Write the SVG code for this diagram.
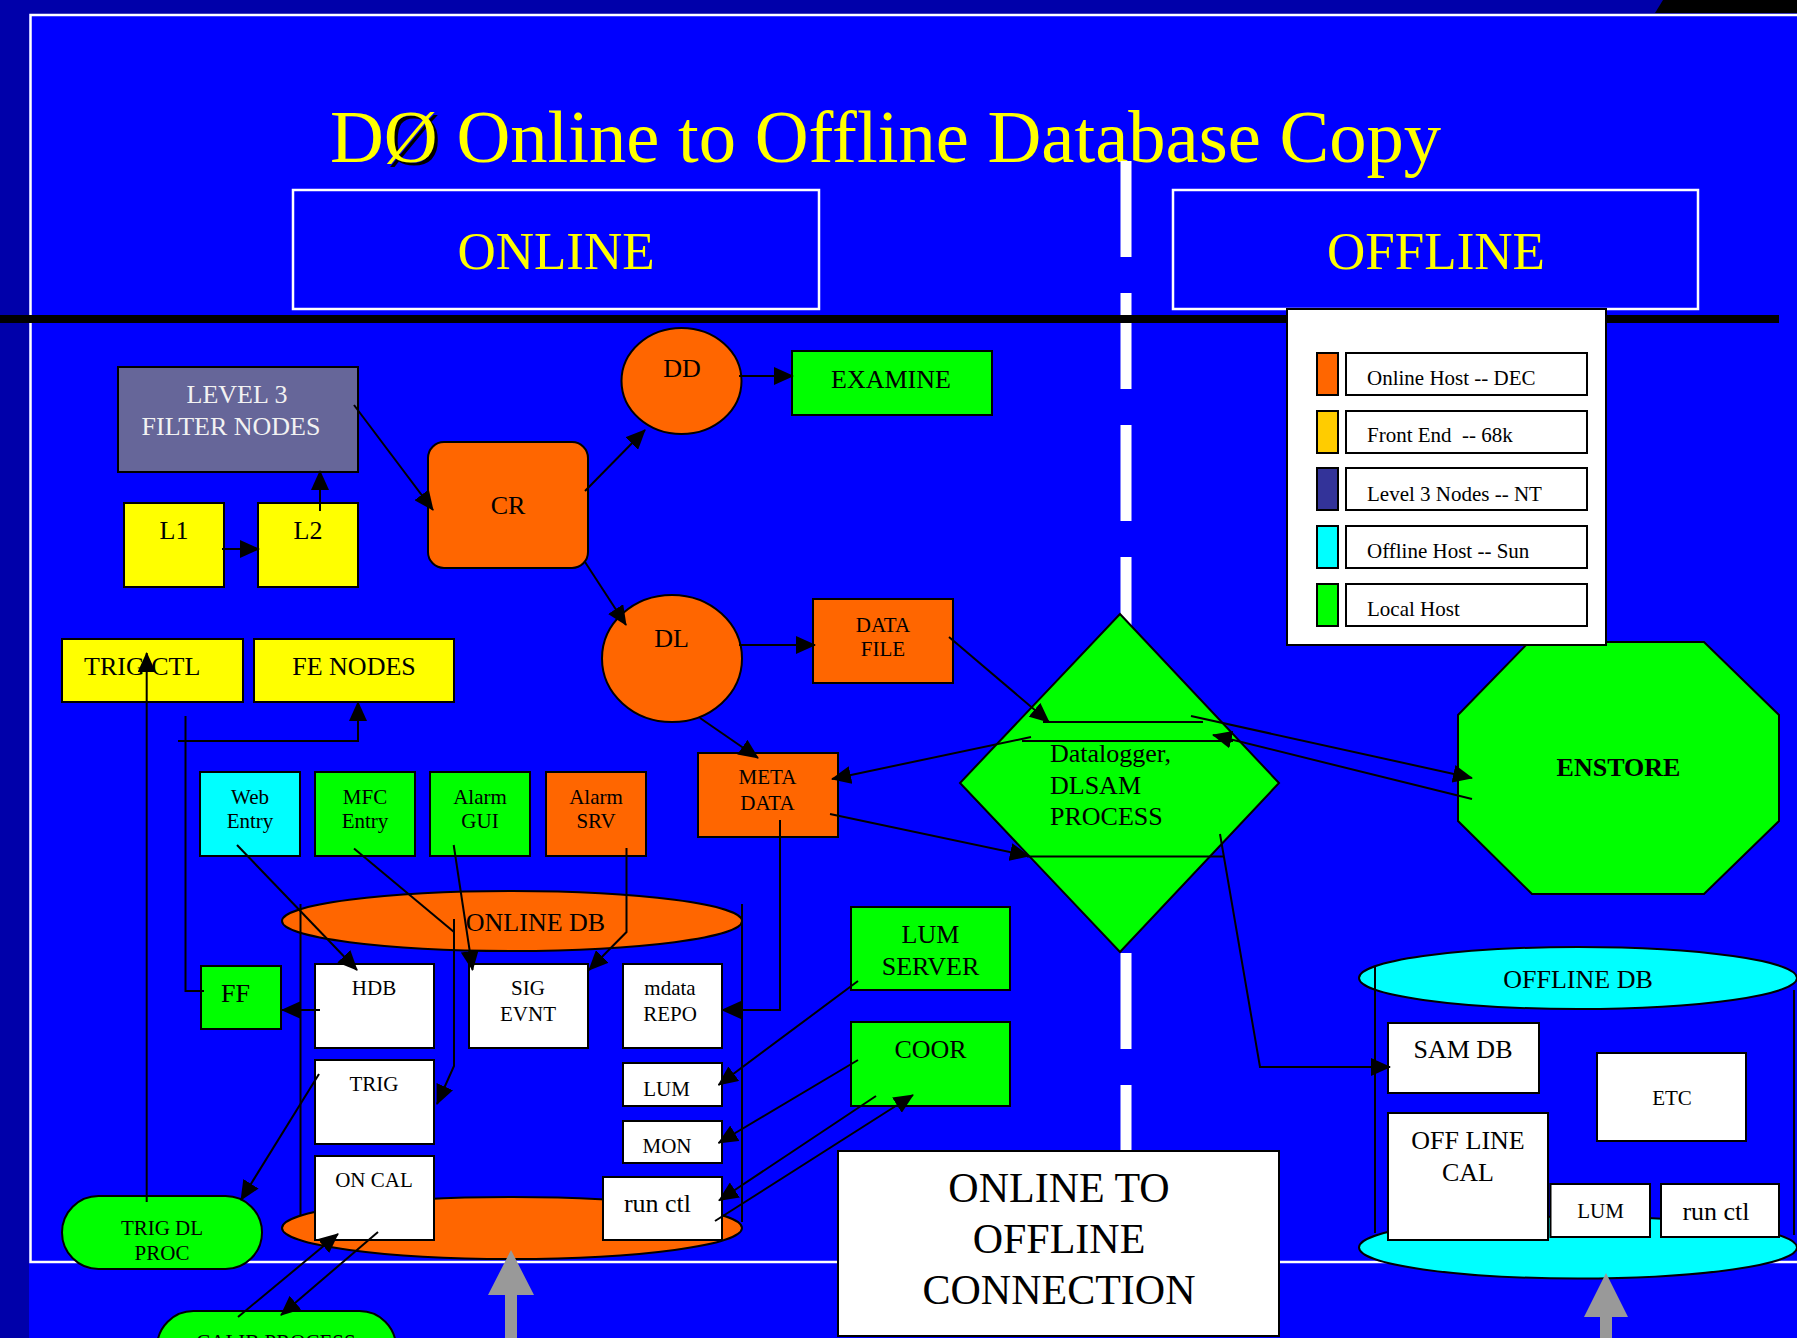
<svg xmlns="http://www.w3.org/2000/svg" width="1797" height="1338" viewBox="0 0 1797 1338">
<defs>
<style>
text{font-family:"Liberation Serif","Times New Roman",serif;fill:#000}
.n{stroke:#000;stroke-width:2}
.t21{font-size:21px}
.t26{font-size:26px}
.c{text-anchor:middle}
.or{fill:#FF6600}
.ye{fill:#FFFF00}
.gr{fill:#00FF00}
.cy{fill:#00FFFF}
.wh{fill:#FFFFFF}
.cn line,.cn polyline{stroke:#000;stroke-width:2;fill:none}
.ar{marker-end:url(#ah)}
.hdr{fill:none;stroke:#FFFFFF;stroke-width:2.5}
.big{font-size:53px;fill:#FFFF00}
</style>
<marker id="ah" markerUnits="userSpaceOnUse" markerWidth="20" markerHeight="18" viewBox="0 0 20 18" refX="19" refY="9" orient="auto">
<path d="M0,0 L20,9 L0,18 z" fill="#000"/>
</marker>
</defs>

<!-- background -->
<rect x="0" y="0" width="1797" height="1338" fill="#0000FF"/>
<rect x="0" y="0" width="1797" height="14" fill="#0000AA"/>
<rect x="0" y="0" width="29" height="1338" fill="#0000AA"/>
<polygon points="1663,0 1797,0 1797,13 1655,13" fill="#000"/>
<rect x="30.5" y="15" width="1800" height="1247" fill="none" stroke="#FFFFFF" stroke-width="2.5"/>

<!-- title -->
<text x="333" y="165" style="font-size:74.6px" fill="none"><tspan fill="none">D</tspan><tspan fill="#000">Ø</tspan></text>
<text x="330" y="162" style="font-size:74.6px;fill:#FFFF00">DØ Online to Offline Database Copy</text>

<!-- divider -->
<line x1="1126" y1="161" x2="1126" y2="1338" stroke="#FFFFFF" stroke-width="11" stroke-dasharray="96 36"/>

<g id="online-header">
<rect class="hdr" x="293" y="190" width="526" height="119"/>
<text class="big c" x="556" y="269">ONLINE</text>
</g>
<g id="offline-header">
<rect class="hdr" x="1173" y="190" width="525" height="119"/>
<text class="big c" x="1436" y="269">OFFLINE</text>
</g>
<rect x="0" y="315" width="1779" height="8" fill="#000"/>

<!-- nodes -->
<g id="level3">
<rect class="n" x="118" y="367" width="240" height="105" fill="#666699"/>
<text class="t26 c" x="237" y="403" style="fill:#F2F2F2">LEVEL 3</text>
<text class="t26 c" x="231" y="435" style="fill:#F2F2F2">FILTER NODES</text>
</g>
<g id="l1"><rect class="n ye" x="124" y="503" width="100" height="84"/><text class="t26 c" x="174" y="539">L1</text></g>
<g id="l2"><rect class="n ye" x="258" y="503" width="100" height="84"/><text class="t26 c" x="308" y="539">L2</text></g>
<g id="cr"><rect class="n or" x="428" y="442" width="160" height="126" rx="16"/><text class="t26 c" x="508" y="514">CR</text></g>
<g id="dd"><ellipse class="n or" cx="681.5" cy="381" rx="60" ry="53"/><text class="t26 c" x="682" y="377">DD</text></g>
<g id="examine"><rect class="n gr" x="792" y="351" width="200" height="64"/><text class="t26 c" x="891" y="388">EXAMINE</text></g>
<g id="dl"><ellipse class="n or" cx="672" cy="658.5" rx="70" ry="63.5"/><text class="t26 c" x="671.5" y="647">DL</text></g>
<g id="datafile"><rect class="n or" x="813" y="599" width="140" height="84"/><text class="t21 c" x="883" y="631.5">DATA</text><text class="t21 c" x="883" y="656">FILE</text></g>
<g id="metadata"><rect class="n or" x="698" y="753" width="140" height="84"/><text class="t21 c" x="767.5" y="784">META</text><text class="t21 c" x="767.5" y="810">DATA</text></g>
<g id="trigctl"><rect class="n ye" x="62" y="639" width="181" height="63"/><text class="t26" x="84" y="675">TRIG CTL</text></g>
<g id="fenodes"><rect class="n ye" x="254" y="639" width="200" height="63"/><text class="t26 c" x="354" y="675">FE NODES</text></g>
<g id="webentry"><rect class="n cy" x="200" y="772" width="100" height="84"/><text class="t21 c" x="250" y="803.5">Web</text><text class="t21 c" x="250" y="828">Entry</text></g>
<g id="mfcentry"><rect class="n gr" x="315" y="772" width="100" height="84"/><text class="t21 c" x="365" y="803.5">MFC</text><text class="t21 c" x="365" y="828">Entry</text></g>
<g id="alarmgui"><rect class="n gr" x="430" y="772" width="100" height="84"/><text class="t21 c" x="480" y="803.5">Alarm</text><text class="t21 c" x="480" y="828">GUI</text></g>
<g id="alarmsrv"><rect class="n or" x="546" y="772" width="100" height="84"/><text class="t21 c" x="596" y="803.5">Alarm</text><text class="t21 c" x="596" y="828">SRV</text></g>

<g id="online-db">
<ellipse class="n or" cx="512" cy="1228" rx="230" ry="31"/>
<ellipse class="n or" cx="512" cy="921" rx="230" ry="30"/>
<text class="t26 c" x="535.5" y="931">ONLINE DB</text>
<line x1="300.5" y1="904" x2="300.5" y2="1215" stroke="#000" stroke-width="2"/>
<line x1="742" y1="904" x2="742" y2="1222" stroke="#000" stroke-width="2"/>
</g>
<g id="hdb"><rect class="n wh" x="315" y="964" width="119" height="84"/><text class="t21 c" x="374" y="995">HDB</text></g>
<g id="sigevnt"><rect class="n wh" x="469" y="964" width="119" height="84"/><text class="t21 c" x="528" y="995">SIG</text><text class="t21 c" x="528" y="1020.5">EVNT</text></g>
<g id="mdatarepo"><rect class="n wh" x="623" y="964" width="99" height="84"/><text class="t21 c" x="670" y="995">mdata</text><text class="t21 c" x="670" y="1020.5">REPO</text></g>
<g id="trig"><rect class="n wh" x="315" y="1060" width="119" height="84"/><text class="t21 c" x="374" y="1090.5">TRIG</text></g>
<g id="oncal"><rect class="n wh" x="315" y="1156" width="119" height="84"/><text class="t21 c" x="374" y="1187">ON CAL</text></g>
<g id="lum-on"><rect class="n wh" x="623" y="1063" width="99" height="43"/><text class="t21 c" x="666.5" y="1095.5">LUM</text></g>
<g id="mon"><rect class="n wh" x="623" y="1121" width="99" height="42"/><text class="t21 c" x="667" y="1152.5">MON</text></g>
<g id="runctl-on"><rect class="n wh" x="603" y="1177" width="119" height="63"/><text class="t26 c" x="657.5" y="1211.5">run ctl</text></g>
<g id="ff"><rect class="n gr" x="201" y="966" width="80" height="63"/><text class="t26" x="221" y="1001.5">FF</text></g>
<g id="trigdlproc"><rect class="n gr" x="62" y="1196" width="200" height="73" rx="36.5"/><text class="t21 c" x="162" y="1235">TRIG DL</text><text class="t21 c" x="162" y="1259.5">PROC</text></g>
<g id="calibprocess"><rect class="n gr" x="157" y="1311" width="239" height="73" rx="36.5"/><text class="t21 c" x="276" y="1349">CALIB PROCESS</text></g>
<g id="lumserver"><rect class="n gr" x="851" y="907" width="159" height="83"/><text class="t26 c" x="930.5" y="942.5">LUM</text><text class="t26 c" x="930.5" y="975">SERVER</text></g>
<g id="coor"><rect class="n gr" x="851" y="1022" width="159" height="84"/><text class="t26 c" x="930.5" y="1057.5">COOR</text></g>

<g id="datalogger">
<polygon class="n gr" points="1120,614 1279,783 1120,952 960,783"/>
<text class="t26" x="1050" y="762">Datalogger,</text>
<text class="t26" x="1050" y="793.5">DLSAM</text>
<text class="t26" x="1050" y="825">PROCESS</text>
</g>
<g id="enstore">
<polygon class="n gr" points="1529,642 1704,642 1779,715 1779,821 1704,894 1532,894 1458,821 1458,715"/>
<text class="c" x="1618.5" y="776" style="font-size:26px;font-weight:bold">ENSTORE</text>
</g>
<g id="legend">
<rect x="1287" y="309" width="319" height="336" fill="#FFFFFF" stroke="#000" stroke-width="2"/>
<rect class="n" x="1317" y="353" width="21" height="42" fill="#FF6600"/>
<rect class="n wh" x="1346" y="353" width="241" height="42"/>
<text class="t21" x="1367" y="385">Online Host -- DEC</text>
<rect class="n" x="1317" y="411" width="21" height="42" fill="#FFCC00"/>
<rect class="n wh" x="1346" y="411" width="241" height="42"/>
<text class="t21" x="1367" y="442" style="white-space:pre">Front End  -- 68k</text>
<rect class="n" x="1317" y="468" width="21" height="42" fill="#333399"/>
<rect class="n wh" x="1346" y="468" width="241" height="42"/>
<text class="t21" x="1367" y="500.5">Level 3 Nodes -- NT</text>
<rect class="n" x="1317" y="526" width="21" height="42" fill="#00FFFF"/>
<rect class="n wh" x="1346" y="526" width="241" height="42"/>
<text class="t21" x="1367" y="558">Offline Host -- Sun</text>
<rect class="n" x="1317" y="584" width="21" height="42" fill="#00FF00"/>
<rect class="n wh" x="1346" y="584" width="241" height="42"/>
<text class="t21" x="1367" y="615.5">Local Host</text>
</g>

<g id="offline-db">
<ellipse class="n cy" cx="1578" cy="1247.5" rx="219" ry="31"/>
<ellipse class="n cy" cx="1578" cy="978" rx="219" ry="31"/>
<text class="t26 c" x="1578" y="988">OFFLINE DB</text>
<line x1="1375" y1="967" x2="1375" y2="1233" stroke="#000" stroke-width="2"/>
<line x1="1794" y1="990" x2="1794" y2="1235" stroke="#000" stroke-width="2"/>
</g>
<g id="samdb"><rect class="n wh" x="1388" y="1023" width="151" height="70"/><text class="t26 c" x="1463" y="1058">SAM DB</text></g>
<g id="etc"><rect class="n wh" x="1597" y="1053" width="149" height="88"/><text class="t21 c" x="1672" y="1105">ETC</text></g>
<g id="offlinecal"><rect class="n wh" x="1388" y="1113" width="160" height="127"/><text class="t26 c" x="1468" y="1149">OFF LINE</text><text class="t26 c" x="1468" y="1181">CAL</text></g>
<g id="lum-off"><rect class="n wh" x="1550.5" y="1184" width="99.5" height="53"/><text class="t21 c" x="1600.5" y="1218">LUM</text></g>
<g id="runctl-off"><rect class="n wh" x="1661" y="1184" width="118" height="53"/><text class="t26 c" x="1716" y="1219.5">run ctl</text></g>

<g id="connection">
<rect class="n wh" x="838" y="1151" width="441" height="185"/>
<text class="c" x="1059" y="1202" style="font-size:42px">ONLINE TO</text>
<text class="c" x="1059" y="1253" style="font-size:42px">OFFLINE</text>
<text class="c" x="1059" y="1304" style="font-size:42px">CONNECTION</text>
</g>

<!-- gray arrows -->
<polygon points="511,1250 534,1295 517,1295 517,1338 505,1338 505,1295 488,1295" fill="#999999"/>
<polygon points="1606,1273 1628,1317 1612,1317 1612,1338 1600,1338 1600,1317 1584,1317" fill="#999999"/>

<!-- connectors -->
<g id="connectors" class="cn">
<line class="ar" x1="222" y1="549" x2="259" y2="549"/>
<line class="ar" x1="320" y1="511" x2="320" y2="471"/>
<line class="ar" x1="354" y1="405" x2="433" y2="510"/>
<line class="ar" x1="585" y1="491" x2="645" y2="430"/>
<line class="ar" x1="585" y1="562" x2="626" y2="625"/>
<line class="ar" x1="739" y1="376" x2="793" y2="376"/>
<line class="ar" x1="739" y1="645" x2="815" y2="645"/>
<line class="ar" x1="700" y1="718" x2="758" y2="758"/>
<line class="ar" x1="949" y1="637" x2="1049" y2="722"/>
<line x1="1043" y1="722" x2="1203" y2="722"/>
<line class="ar" x1="1191" y1="716" x2="1472" y2="778"/>
<line class="ar" x1="1472" y1="799" x2="1213" y2="735"/>
<line x1="1022" y1="741" x2="1233" y2="741"/>
<line class="ar" x1="1031" y1="737" x2="832" y2="779"/>
<line class="ar" x1="830" y1="814" x2="1029" y2="856"/>
<line x1="1027" y1="856.5" x2="1223" y2="856.5"/>
<polyline class="ar" points="1220,834 1260,1067 1390,1067"/>
<polyline class="ar" points="780,820 780,1010 722,1010"/>
<polyline class="ar" points="626.5,848 626.5,932 589,970"/>
<line class="ar" x1="453.7" y1="845" x2="472.6" y2="970"/>
<line x1="354" y1="848.5" x2="454" y2="932"/>
<polyline class="ar" points="454,919 454,1066 437,1104"/>
<line class="ar" x1="237" y1="845" x2="357" y2="970"/>
<line class="ar" x1="320" y1="1010" x2="282" y2="1010"/>
<polyline points="204,991 185.5,991 185.5,716"/>
<polyline class="ar" points="178,741 358,741 358,702"/>
<line class="ar" x1="146.7" y1="1202" x2="146.7" y2="653"/>
<line class="ar" x1="319" y1="1074" x2="241" y2="1200"/>
<line class="ar" x1="238" y1="1317" x2="338" y2="1234"/>
<line class="ar" x1="378" y1="1232" x2="281" y2="1315"/>
<line class="ar" x1="858" y1="981" x2="718.5" y2="1085"/>
<line class="ar" x1="858" y1="1060" x2="718.5" y2="1143"/>
<line class="ar" x1="876" y1="1096" x2="719" y2="1200.5"/>
<line class="ar" x1="715" y1="1221" x2="913" y2="1095"/>
</g>
</svg>
